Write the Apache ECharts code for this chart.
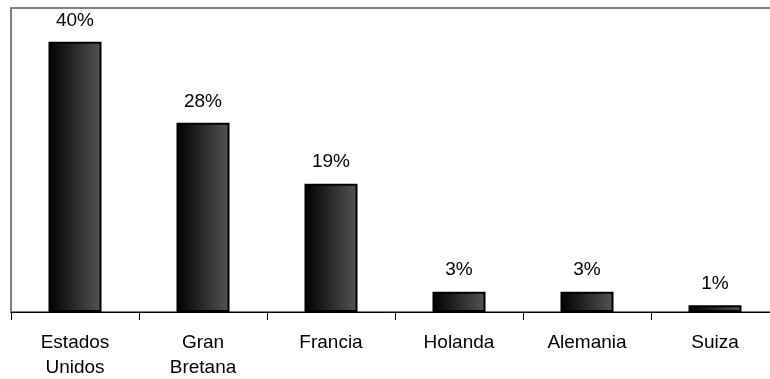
<!DOCTYPE html>
<html><head><meta charset="utf-8">
<script src="https://cdn.jsdelivr.net/npm/echarts@6/dist/echarts.min.js"></script>
<style>html,body{margin:0;padding:0;background:#fff}#c{width:770px;height:379px}</style>
</head><body><div id="c"></div>
<script>
const categories = ['Estados\nUnidos', 'Gran\nBretana', 'Francia', 'Holanda', 'Alemania', 'Suiza'];
const values = [40, 28, 19, 3, 3, 1];
const yMax = 45;

const chart = echarts.init(document.getElementById('c'), null, {renderer: 'canvas'});
chart.setOption({
  animation: false,
  backgroundColor: '#fff',
  grid: {left: 11, top: 8, width: 768, height: 304, outerBoundsMode: 'none', containLabel: false, show: true, borderColor: '#808080', borderWidth: 2, backgroundColor: 'transparent'},
  xAxis: {
    type: 'category', data: categories,
    axisLine: {lineStyle: {color: '#000', width: 1}},
    axisTick: {show: true, length: 8, lineStyle: {color: '#000'}},
    axisLabel: {color: '#000', fontFamily: 'Liberation Sans, Arial', fontSize: 19, lineHeight: 25, margin: 18, interval: 0}
  },
  yAxis: {type: 'value', min: 0, max: yMax, show: false, splitLine: {show: false}},
  series: [{
    type: 'bar', data: values, barWidth: 53,
    itemStyle: {
      color: new echarts.graphic.LinearGradient(0, 0, 1, 0, [{offset: 0, color: '#000'}, {offset: 1, color: '#555'}]),
      borderColor: '#000', borderWidth: 2
    },
    label: {show: true, position: 'top', distance: 12, formatter: '{c}%', color: '#000', fontFamily: 'Liberation Sans, Arial', fontSize: 19}
  }]
});
</script></body></html>
